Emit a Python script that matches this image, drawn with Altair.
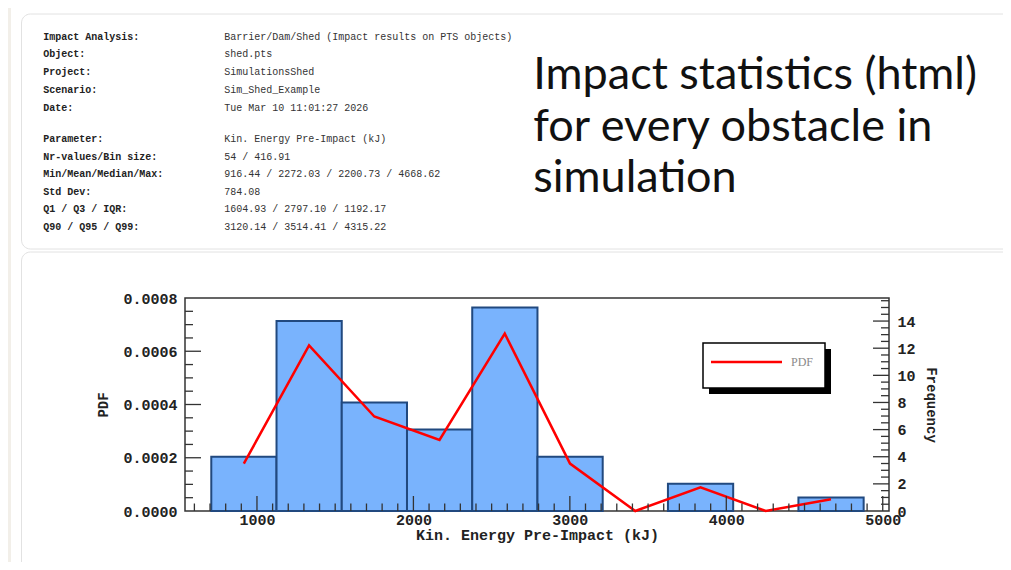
import altair as alt
import pandas as pd

# ---------------- data ----------------
bin_starts = [708, 1125, 1542, 1959, 2376, 2793, 3210, 3627, 4044, 4461]
bin_ends = [1125, 1542, 1959, 2376, 2793, 3210, 3627, 4044, 4461, 4878]
bin_centers = [916, 1333, 1750, 2167, 2584, 3001, 3418, 3835, 4252, 4669]
counts = [4, 14, 8, 6, 15, 4, 0, 2, 0, 1]
pdf_values = [0.000178, 0.000622, 0.000355, 0.000267, 0.000666, 0.000178,
              0.0, 0.0000889, 0.0, 0.0000444]

x_label_values = [1000, 2000, 3000, 4000, 5000]
x_minor_values = [v for v in range(600, 5001, 100) if v % 1000 != 0]
pdf_label_values = [0.0, 0.0002, 0.0004, 0.0006, 0.0008]
pdf_minor_values = [0.00005, 0.0001, 0.00015, 0.00025, 0.0003, 0.00035,
                    0.00045, 0.0005, 0.00055, 0.00065, 0.0007, 0.00075]
freq_label_values = [0, 2, 4, 6, 8, 10, 12, 14]
freq_minor_values = [0.5, 1, 1.5, 2.5, 3, 3.5, 4.5, 5, 5.5, 6.5, 7, 7.5, 8.5, 9,
                     9.5, 10.5, 11, 11.5, 12.5, 13, 13.5, 14.5, 15, 15.5]

info_labels_1 = ["Impact Analysis:", "Object:", "Project:", "Scenario:", "Date:"]
info_values_1 = ["Barrier/Dam/Shed (Impact results on PTS objects)", "shed.pts",
                 "SimulationsShed", "Sim_Shed_Example", "Tue Mar 10 11:01:27 2026"]
info_labels_2 = ["Parameter:", "Nr-values/Bin size:", "Min/Mean/Median/Max:",
                 "Std Dev:", "Q1 / Q3 / IQR:", "Q90 / Q95 / Q99:"]
info_values_2 = ["Kin. Energy Pre-Impact (kJ)", "54 / 416.91",
                 "916.44 / 2272.03 / 2200.73 / 4668.62", "784.08",
                 "1604.93 / 2797.10 / 1192.17", "3120.14 / 3514.41 / 4315.22"]

headline = "Impact statistics (html)\nfor every obstacle in\nsimulation"

# ---------------- layout constants ----------------
W, H = 704, 213
MONO = "Liberation Mono"
INK = "#222222"

x_scale = alt.Scale(domain=[540, 5040], nice=False, zero=False)
pdf_scale = alt.Scale(domain=[0, 0.0008], nice=False, zero=True)
freq_scale = alt.Scale(domain=[0, 15.7], nice=False, zero=True)

hist_df = pd.DataFrame({"start": bin_starts, "end": bin_ends, "count": counts})
pdf_df = pd.DataFrame({"center": bin_centers, "pdf": pdf_values})
one = pd.DataFrame({"a": [0]})

axis_style = dict(ticks=False, domain=False, grid=False, labelFlush=False,
                  labelFont=MONO, labelFontSize=15, labelFontWeight="bold",
                  labelColor=INK, titleFont=MONO, titleFontWeight="bold",
                  titleColor=INK)
x_axis = alt.Axis(title="Kin. Energy Pre-Impact (kJ)", values=x_label_values,
                  format="d", labelPadding=1, titleFontSize=15, titlePadding=0,
                  **axis_style)
pdf_axis = alt.Axis(orient="left", title="PDF", values=pdf_label_values,
                    format=".4f", labelPadding=8, titleFontSize=14,
                    titlePadding=12, **axis_style)
freq_axis = alt.Axis(orient="right", title="Frequency", values=freq_label_values,
                     format="d", labelPadding=8, titleFontSize=14,
                     titlePadding=8, titleAngle=90, **axis_style)

# ---------------- page decorations ----------------
strip = alt.Chart(one).mark_rect(fill="#f2efe9").encode(
    x=alt.value(-177), x2=alt.value(-174), y=alt.value(-290), y2=alt.value(300))
card_top = alt.Chart(one).mark_rect(
    fill="transparent", stroke="#e2e2e2", strokeWidth=1, cornerRadius=9).encode(
    x=alt.value(-163.5), x2=alt.value(900), y=alt.value(-284), y2=alt.value(-49))
card_bottom = alt.Chart(one).mark_rect(
    fill="transparent", stroke="#e2e2e2", strokeWidth=1, cornerRadius=9).encode(
    x=alt.value(-163.5), x2=alt.value(900), y=alt.value(-46), y2=alt.value(400))


def info_block(labels, values, top, step):
    df = pd.DataFrame({"label": labels, "value": values, "i": list(range(len(labels)))})
    base = alt.Chart(df).transform_calculate(ypix=f"{top} + datum.i * {step}")
    lab = base.mark_text(align="left", baseline="middle", font=MONO, fontSize=10,
                         fontWeight="bold", color=INK).encode(
        text="label:N", x=alt.value(-141.7),
        y=alt.Y("ypix:Q", scale=None, axis=None))
    val = base.mark_text(align="left", baseline="middle", font=MONO, fontSize=10,
                         color="#333333").encode(
        text="value:N", x=alt.value(39.3),
        y=alt.Y("ypix:Q", scale=None, axis=None))
    return [lab, val]


info_layers = info_block(info_labels_1, info_values_1, -261.3, 17.75) + \
    info_block(info_labels_2, info_values_2, -159.0, 17.6)

head = alt.Chart(pd.DataFrame({"t": [headline]})).mark_text(
    align="left", baseline="alphabetic", lineBreak="\n", lineHeight=51.5,
    font="Lato", fontSize=45, color="#111111").encode(
    text="t:N", x=alt.value(348.3), y=alt.value(-209))

# ---------------- histogram (frequency scale) ----------------
bars = alt.Chart(hist_df).transform_filter("datum.count > 0").mark_rect(
    fill="#79b3fd", stroke="#21497f", strokeWidth=2).encode(
    x=alt.X("start:Q", scale=x_scale, axis=x_axis),
    x2="end:Q",
    y=alt.Y("count:Q", scale=freq_scale, axis=freq_axis),
    y2=alt.datum(0))

rule_style = dict(color="#333333", strokeWidth=1.3)
freq_major = alt.Chart(pd.DataFrame({"v": freq_label_values[1:]})).mark_rule(**rule_style).encode(
    y=alt.Y("v:Q", scale=freq_scale, axis=None), x=alt.value(W), x2=alt.value(W - 16))
freq_minor = alt.Chart(pd.DataFrame({"v": freq_minor_values})).mark_rule(**rule_style).encode(
    y=alt.Y("v:Q", scale=freq_scale, axis=None), x=alt.value(W), x2=alt.value(W - 8))

# ---------------- PDF line (pdf scale) ----------------
line = alt.Chart(pdf_df).mark_line(color="#ff0000", strokeWidth=2.5).encode(
    x=alt.X("center:Q", scale=x_scale, axis=x_axis),
    y=alt.Y("pdf:Q", scale=pdf_scale, axis=pdf_axis),
    order="center:Q")

pdf_major = alt.Chart(pd.DataFrame({"v": pdf_label_values[1:-1]})).mark_rule(**rule_style).encode(
    y=alt.Y("v:Q", scale=pdf_scale, axis=None), x=alt.value(0), x2=alt.value(16))
pdf_minor = alt.Chart(pd.DataFrame({"v": pdf_minor_values})).mark_rule(**rule_style).encode(
    y=alt.Y("v:Q", scale=pdf_scale, axis=None), x=alt.value(0), x2=alt.value(8))

# x tick rules share the same x axis definition so the shared axis merges cleanly
x_major = alt.Chart(pd.DataFrame({"v": x_label_values})).mark_rule(**rule_style).encode(
    x=alt.X("v:Q", scale=x_scale, axis=x_axis), y=alt.value(H), y2=alt.value(H - 15))
x_minor = alt.Chart(pd.DataFrame({"v": x_minor_values})).mark_rule(**rule_style).encode(
    x=alt.X("v:Q", scale=x_scale, axis=x_axis), y=alt.value(H), y2=alt.value(H - 7.5))

# ---------------- legend box ----------------
leg_shadow = alt.Chart(one).mark_rect(fill="#000000").encode(
    x=alt.value(524), x2=alt.value(646), y=alt.value(51), y2=alt.value(96))
leg_box = alt.Chart(one).mark_rect(fill="#ffffff", stroke="#000000", strokeWidth=1.5).encode(
    x=alt.value(518), x2=alt.value(640), y=alt.value(45), y2=alt.value(90))
leg_line = alt.Chart(one).mark_rule(color="#ff0000", strokeWidth=2.5).encode(
    x=alt.value(526), x2=alt.value(597), y=alt.value(64))
leg_text = alt.Chart(pd.DataFrame({"t": ["PDF"]})).mark_text(
    align="left", baseline="alphabetic", font="Liberation Serif", fontSize=12,
    color="#8a8a8a").encode(text="t:N", x=alt.value(606), y=alt.value(68))

chart = alt.layer(
    strip, card_top, card_bottom, *info_layers, head,
    bars, freq_major, freq_minor,
    line, pdf_major, pdf_minor, x_major, x_minor,
    leg_shadow, leg_box, leg_line, leg_text,
).resolve_scale(y="independent").properties(
    width=W, height=H,
    autosize=alt.AutoSizeParams(type="none"),
    padding={"left": 177, "top": 290, "right": 114, "bottom": 51},
    background="#ffffff",
).configure_view(stroke="#333333", strokeWidth=1.5)

chart.save("out.html", embed_options={"renderer": "svg", "actions": False})
